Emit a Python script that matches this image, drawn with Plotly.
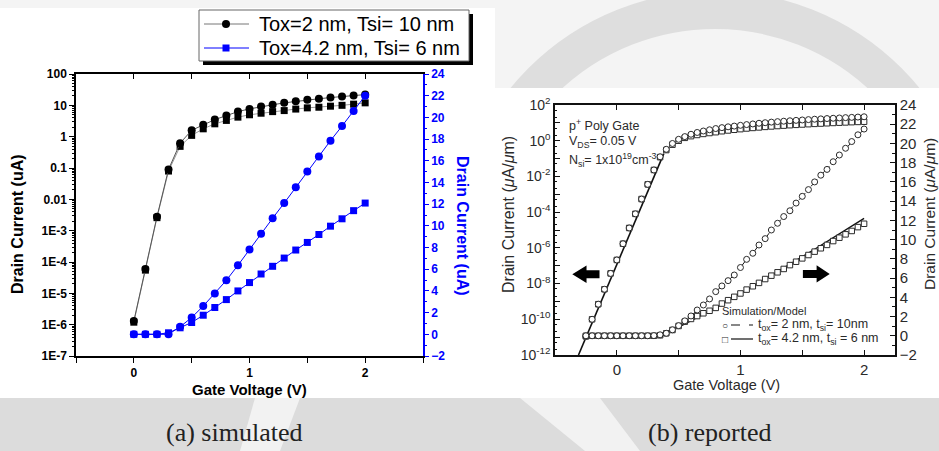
import plotly.graph_objects as go

W, H = 939, 451
def fx(p): return p / W
def fy(p): return 1 - p / H

# ---------------- (a) simulated data ----------------
sim_v = [0, 0.1, 0.2, 0.3, 0.4, 0.5, 0.6, 0.7, 0.8, 0.9, 1.0, 1.1, 1.2, 1.3, 1.4, 1.5, 1.6, 1.7, 1.8, 1.9, 2.0]
sim_circ_log = [1.3e-6, 6e-5, 2.8e-3, 0.09, 0.62, 1.6, 2.4, 3.5, 4.7, 6.3, 7.7, 9.2, 10.4, 12, 13.5, 15, 16.2, 17.7, 19, 20.6, 22]
sim_sq_log = [1.2e-6, 5.5e-5, 2.6e-3, 0.08, 0.49, 1.1, 1.78, 2.57, 3.3, 4.2, 5.0, 5.6, 6.3, 6.8, 7.6, 8.3, 8.7, 9.4, 10.0, 10.9, 12.0]
sim_circ_lin = [0, 0, 0, 0.003, 0.69, 1.55, 2.6, 3.76, 4.98, 6.36, 7.83, 9.27, 10.7, 12.1, 13.55, 15.0, 16.4, 17.85, 19.2, 20.6, 22.0]
sim_sq_lin = [0, 0, 0, 0.14, 0.6, 1.09, 1.76, 2.47, 3.2, 4.0, 4.77, 5.56, 6.27, 7.03, 7.77, 8.47, 9.2, 9.97, 10.65, 11.4, 12.1]
sim_names = ["Tox=2 nm, Tsi= 10 nm", "Tox=4.2 nm, Tsi= 6 nm"]

sim_log_tickvals = [100, 10, 1, 0.1, 0.01, 1e-3, 1e-4, 1e-5, 1e-6, 1e-7]
sim_log_ticktext = ["100", "10", "1", "0.1", "0.01", "1E-3", "1E-4", "1E-5", "1E-6", "1E-7"]
x_tickvals = [-0.5, 0, 0.5, 1, 1.5, 2, 2.5]
x_ticktext = ["", "0", "", "1", "", "2", ""]

# ---------------- (b) reported data ----------------
rep_v = [-0.25, -0.2, -0.15, -0.1, -0.05, 0, 0.05, 0.1, 0.15, 0.2, 0.25, 0.3, 0.35, 0.4, 0.45, 0.5,
         0.55, 0.6, 0.65, 0.7, 0.75, 0.8, 0.85, 0.9, 0.95, 1.0, 1.05, 1.1, 1.15, 1.2, 1.25, 1.3,
         1.35, 1.4, 1.45, 1.5, 1.55, 1.6, 1.65, 1.7, 1.75, 1.8, 1.85, 1.9, 1.95, 2.0]
rep_circ_log = [1.1e-11, 1.0e-10, 7e-10, 4.8e-9, 3.7e-8, 2.1e-7, 1.7e-6, 1.3e-5, 8e-5, 5.4e-4, 3.6e-3,
                0.023, 0.126, 0.33, 0.7, 1.2, 1.7, 2.3, 2.9, 3.5, 4.1, 4.8, 5.4, 6.0, 6.6, 7.3, 8.0,
                8.7, 9.5, 10.2, 11.0, 11.7, 12.4, 13.1, 13.8, 14.5, 15.2, 16.0, 16.7, 17.4, 18.1,
                18.8, 19.6, 20.3, 21.1, 21.9]
rep_sq_log = [1.1e-11, 1.0e-10, 7e-10, 4.8e-9, 3.7e-8, 2.1e-7, 1.7e-6, 1.3e-5, 8e-5, 5.4e-4, 3.6e-3,
              0.023, 0.12, 0.3, 0.6, 1.0, 1.45, 1.8, 2.1, 2.4, 2.7, 3.0, 3.4, 3.75, 4.1, 4.45, 4.85,
              5.2, 5.55, 5.95, 6.3, 6.65, 7.0, 7.4, 7.75, 8.1, 8.45, 8.8, 9.15, 9.5, 9.9, 10.25,
              10.6, 10.95, 11.3, 11.6]
rep_circ_lin = [0, 0, 0, 0, 0, 0, 0, 0, 0, 0, 0, 0.02, 0.1, 0.26, 0.62, 1.05, 1.55, 2.06, 2.68, 3.2,
                3.83, 4.59, 5.18, 5.73, 6.32, 7.1, 7.95, 8.58, 9.44, 10.1, 11.0, 11.7, 12.4, 13.0,
                13.8, 14.5, 15.2, 16.0, 16.7, 17.3, 18.1, 18.8, 19.5, 20.2, 20.9, 21.5]
rep_sq_lin = [0, 0, 0, 0, 0, 0, 0, 0, 0, 0, 0, 0, 0.05, 0.26, 0.6, 1.02, 1.47, 1.75, 2.05, 2.34,
              2.6, 2.9, 3.35, 3.7, 4.05, 4.4, 4.8, 5.15, 5.5, 5.9, 6.25, 6.6, 6.95, 7.35, 7.7, 8.05,
              8.4, 8.75, 9.1, 9.45, 9.85, 10.2, 10.55, 10.9, 11.3, 11.65]
model_log_v = [-0.31, 0.38]
model_log_i = [1e-12, 0.19]
model_lin_v = [0.35, 0.5, 0.8, 1.2, 1.6, 2.0]
model_lin_i = [0, 0.9, 2.9, 5.9, 9.0, 12.2]

rep_log_tickvals = [1e2, 1e1, 1e0, 1e-1, 1e-2, 1e-3, 1e-4, 1e-5, 1e-6, 1e-7, 1e-8, 1e-9, 1e-10, 1e-11, 1e-12]
rep_log_ticktext = ["10<sup>2</sup>", "", "10<sup>0</sup>", "", "10<sup>-2</sup>", "", "10<sup>-4</sup>", "",
                    "10<sup>-6</sup>", "", "10<sup>-8</sup>", "", "10<sup>-10</sup>", "", "10<sup>-12</sup>"]
rep_x_tickvals = [-0.5, 0, 0.5, 1, 1.5, 2]
rep_x_ticktext = ["", "0", "", "1", "", "2"]

SANS = "Liberation Sans"
BLUE = "#0000ff"
GRAYD = "#2a2a2a"

fig = go.Figure()

# ---- (a) traces ----
fig.add_trace(go.Scatter(x=sim_v, y=sim_sq_log, mode="lines+markers", xaxis="x", yaxis="y",
                         line=dict(color="#9a9a9a", width=1), marker=dict(symbol="square", size=7, color="black"),
                         showlegend=False, hoverinfo="skip"))
fig.add_trace(go.Scatter(x=sim_v, y=sim_circ_log, mode="lines+markers", xaxis="x", yaxis="y",
                         name=sim_names[0], showlegend=False,
                         line=dict(color="#555555", width=1), marker=dict(symbol="circle", size=8, color="black")))
fig.add_trace(go.Scatter(x=sim_v, y=sim_circ_lin, mode="lines+markers", xaxis="x", yaxis="y2",
                         line=dict(color=BLUE, width=1), marker=dict(symbol="circle", size=8, color=BLUE),
                         showlegend=False, hoverinfo="skip"))
fig.add_trace(go.Scatter(x=sim_v, y=sim_sq_lin, mode="lines+markers", xaxis="x", yaxis="y2",
                         name=sim_names[1], showlegend=False,
                         line=dict(color=BLUE, width=1), marker=dict(symbol="square", size=7, color=BLUE)))
fig.add_trace(go.Scatter(x=[None], y=[None], xaxis="x3", yaxis="y", showlegend=False, hoverinfo="skip"))

# ---- (b) traces ----
mk_c = dict(symbol="circle", size=6, color="white", line=dict(color=GRAYD, width=1))
mk_s = dict(symbol="square", size=5.5, color="white", line=dict(color=GRAYD, width=1))
fig.add_trace(go.Scatter(x=model_log_v, y=model_log_i, mode="lines", xaxis="x2", yaxis="y3",
                         line=dict(color="#111111", width=1.6), showlegend=False, hoverinfo="skip"))
fig.add_trace(go.Scatter(x=rep_v, y=rep_sq_log, mode="markers", xaxis="x2", yaxis="y3",
                         marker=mk_s, showlegend=False, hoverinfo="skip"))
fig.add_trace(go.Scatter(x=rep_v, y=rep_circ_log, mode="markers", xaxis="x2", yaxis="y3",
                         marker=mk_c, showlegend=False, hoverinfo="skip"))
fig.add_trace(go.Scatter(x=rep_v, y=rep_circ_lin, mode="lines", xaxis="x2", yaxis="y4",
                         line=dict(color="#111111", width=1, dash="dash"), showlegend=False, hoverinfo="skip"))
fig.add_trace(go.Scatter(x=model_lin_v, y=model_lin_i, mode="lines", xaxis="x2", yaxis="y4",
                         line=dict(color="#111111", width=1.4), showlegend=False, hoverinfo="skip"))
fig.add_trace(go.Scatter(x=rep_v, y=rep_sq_lin, mode="markers", xaxis="x2", yaxis="y4",
                         marker=mk_s, showlegend=False, hoverinfo="skip"))
fig.add_trace(go.Scatter(x=rep_v, y=rep_circ_lin, mode="markers", xaxis="x2", yaxis="y4",
                         marker=mk_c, showlegend=False, hoverinfo="skip"))

boldtick = dict(family=SANS, size=12, color="black", weight="bold")
bluetick = dict(family=SANS, size=12, color=BLUE, weight="bold")
reptick = dict(family=SANS, size=14, color=GRAYD)

fig.update_layout(
    width=W, height=H, autosize=False,
    margin=dict(l=0, r=0, t=0, b=0, pad=0, autoexpand=False),
    paper_bgcolor="white", plot_bgcolor="rgba(0,0,0,0)",
    showlegend=False,
    xaxis=dict(domain=[fx(76), fx(423)], range=[-0.5, 2.5], anchor="y",
               tickmode="array", tickvals=x_tickvals, ticktext=x_ticktext,
               ticks="outside", ticklen=5, tickwidth=1, tickcolor="black",
               showline=True, linecolor="black", linewidth=1.5, mirror=True,
               showgrid=False, zeroline=False, tickfont=boldtick),
    xaxis3=dict(overlaying="x", anchor="y", side="top", range=[-0.5, 2.5],
                tickmode="array", tickvals=x_tickvals, ticks="inside", ticklen=5,
                tickcolor="black", showticklabels=False, showline=False,
                showgrid=False, zeroline=False),
    yaxis=dict(domain=[fy(356), fy(74)], type="log", range=[-7, 2], anchor="x",
               tickmode="array", tickvals=sim_log_tickvals, ticktext=sim_log_ticktext,
               ticks="outside", ticklen=5, tickcolor="black",
               minor=dict(ticks="outside", ticklen=2, dtick="D1", tickcolor="black", showgrid=False),
               showline=True, linecolor="black", linewidth=1.5,
               showgrid=False, zeroline=False, tickfont=boldtick),
    yaxis2=dict(overlaying="y", anchor="x", side="right", range=[-2, 24],
                tickmode="linear", tick0=0, dtick=2,
                ticks="outside", ticklen=4, tickcolor=BLUE,
                minor=dict(ticks="outside", ticklen=2, dtick=1, tickcolor=BLUE, showgrid=False),
                showline=True, linecolor=BLUE, linewidth=1.5,
                showgrid=False, zeroline=False, tickfont=bluetick),
    xaxis2=dict(domain=[fx(555), fx(895)], range=[-0.5, 2.25], anchor="y3",
                tickmode="array", tickvals=rep_x_tickvals, ticktext=rep_x_ticktext,
                ticks="inside", ticklen=5, tickcolor="#111", mirror="ticks",
                showline=True, linecolor="#111", linewidth=1.5,
                showgrid=False, zeroline=False, tickfont=dict(family=SANS, size=15, color=GRAYD)),
    yaxis3=dict(domain=[fy(355), fy(105)], type="log", range=[-12, 2], anchor="x2",
                tickmode="array", tickvals=rep_log_tickvals, ticktext=rep_log_ticktext,
                ticks="inside", ticklen=5, tickcolor="#111",
                minor=dict(ticks="inside", ticklen=2.5, dtick="D2", tickcolor="#111", showgrid=False),
                showline=True, linecolor="#111", linewidth=1.5, mirror=True,
                showgrid=False, zeroline=False, tickfont=reptick),
    yaxis4=dict(overlaying="y3", anchor="x2", side="right", range=[-2, 24],
                tickmode="linear", tick0=0, dtick=2,
                ticks="inside", ticklen=5, tickcolor="#111",
                minor=dict(ticks="inside", ticklen=3, dtick=1, tickcolor="#111", showgrid=False),
                showline=True, linecolor="#111", linewidth=1.5,
                showgrid=False, zeroline=False, tickfont=dict(family=SANS, size=15, color=GRAYD)),
)

# ---------------- background / decoration shapes ----------------
shapes = []
def rect(x0, y0, x1, y1, fill, layer="below", line=None):
    return dict(type="rect", xref="paper", yref="paper", x0=fx(x0), x1=fx(x1), y0=fy(y1), y1=fy(y0),
                fillcolor=fill, line=line or dict(width=0), layer=layer)

shapes.append(rect(0, 0, 939, 451, "#f4f4f4"))
shapes.append(dict(type="circle", xref="paper", yref="paper", x0=fx(470), x1=fx(960), y0=fy(500), y1=fy(10),
                   line=dict(color="#dedede", width=38), fillcolor="rgba(0,0,0,0)", layer="below"))
shapes.append(rect(0, 398, 939, 451, "#dcdcdc"))
shapes.append(dict(type="path", xref="paper", yref="paper", layer="below", line=dict(width=0), fillcolor="#f2f2f2",
                   path="M {},{} L {},{} L {},{} L {},{} Z".format(fx(520), fy(398), fx(600), fy(398), fx(640), fy(451), fx(585), fy(451))))
shapes.append(dict(type="path", xref="paper", yref="paper", layer="below", line=dict(width=0), fillcolor="#f2f2f2",
                   path="M {},{} L {},{} L {},{} L {},{} Z".format(fx(255), fy(398), fx(300), fy(398), fx(280), fy(451), fx(240), fy(451))))
shapes.append(rect(0, 8, 495, 398, "white"))
shapes.append(rect(495, 88, 939, 398, "white"))
# legend (a): shadow, box, sample lines and markers
shapes.append(rect(203, 14, 473, 65, "black"))
shapes.append(rect(199, 10, 469, 61, "white", line=dict(color="#666666", width=1)))
shapes.append(dict(type="line", xref="paper", yref="paper", x0=fx(204), x1=fx(249), y0=fy(24), y1=fy(24),
                   line=dict(color="#777777", width=1), layer="below"))
shapes.append(dict(type="circle", xref="paper", yref="paper", x0=fx(222), x1=fx(230), y0=fy(28), y1=fy(20),
                   fillcolor="black", line=dict(width=0), layer="below"))
shapes.append(dict(type="line", xref="paper", yref="paper", x0=fx(204), x1=fx(249), y0=fy(48), y1=fy(48),
                   line=dict(color=BLUE, width=1), layer="below"))
shapes.append(rect(222.5, 44.5, 229.5, 51.5, BLUE))

def arrow_path(tip, base, tail, yc, hh, bh):
    return ("M {t},{yc} L {b},{y1} L {b},{y2} L {tl},{y2} L {tl},{y3} L {b},{y3} L {b},{y4} Z"
            .format(t=tip, b=base, tl=tail, yc=yc, y1=yc + hh, y2=yc + bh, y3=yc - bh, y4=yc - hh))
shapes.append(dict(type="path", xref="x2", yref="y4", layer="above", fillcolor="black", line=dict(width=0),
                   path=arrow_path(-0.36, -0.245, -0.14, 6.4, 0.9, 0.42)))
shapes.append(dict(type="path", xref="x2", yref="y4", layer="above", fillcolor="black", line=dict(width=0),
                   path=arrow_path(1.722, 1.616, 1.505, 6.43, 0.9, 0.42)))
shapes.append(dict(type="line", xref="paper", yref="paper", x0=fx(731), x1=fx(753), y0=fy(325), y1=fy(325),
                   line=dict(color="#111", width=1.2, dash="dash"), layer="above"))
shapes.append(dict(type="line", xref="paper", yref="paper", x0=fx(731), x1=fx(753), y0=fy(339), y1=fy(339),
                   line=dict(color="#111", width=1.2), layer="above"))
fig.update_layout(shapes=shapes)

# ---------------- annotations ----------------
ann = []
def txt(x, y, text, size, color="black", angle=0, xanchor="center", family=SANS, weight="normal"):
    ann.append(dict(x=fx(x), y=fy(y), xref="paper", yref="paper", text=text, showarrow=False,
                    xanchor=xanchor, yanchor="middle", textangle=angle,
                    font=dict(family=family, size=size, color=color, weight=weight)))

txt(257, 24, sim_names[0], 20, xanchor="left")
txt(257, 48, sim_names[1], 20, xanchor="left")

txt(17, 224, "Drain Current (uA)", 16, angle=-90, weight="bold")
txt(463, 226, "Drain Current (uA)", 16, color=BLUE, angle=90, weight="bold")
txt(249, 389, "Gate Voltage (V)", 15, weight="bold")

txt(508, 214, "Drain Current (<i>μ</i>A/<i>μ</i>m)", 16, color=GRAYD, angle=-90)
txt(929, 214, "Drain Current (<i>μ</i>A/<i>μ</i>m)", 15.5, color=GRAYD, angle=-90)
txt(726, 385, "Gate Voltage (V)", 14.5, color=GRAYD)

txt(567, 125, "p<sup>+</sup> Poly Gate", 12.5, color=GRAYD, xanchor="left")
txt(567, 142, "V<sub>DS</sub>= 0.05 V", 12.5, color=GRAYD, xanchor="left")
txt(567, 160, "N<sub>si</sub>= 1x10<sup>19</sup>cm<sup>-3</sup>", 12.5, color=GRAYD, xanchor="left")

txt(720, 311, "Simulation/Model", 11, color=GRAYD, xanchor="left")
txt(725, 325, "○", 10, color=GRAYD)
txt(725, 339, "□", 10, color=GRAYD)
txt(756, 325, "t<sub>ox</sub>= 2 nm, t<sub>si</sub>= 10nm", 12.5, color=GRAYD, xanchor="left")
txt(756, 339, "t<sub>ox</sub>= 4.2 nm, t<sub>si</sub> = 6 nm", 12.5, color=GRAYD, xanchor="left")

txt(234, 432, "(a) simulated", 26, color="#222", family="Liberation Serif")
txt(709, 432, "(b) reported", 26, color="#222", family="Liberation Serif")
fig.update_layout(annotations=ann)

fig.write_html("out.html", config={"displayModeBar": False},
               post_script="document.body.style.margin='0';document.body.style.padding='0';")
